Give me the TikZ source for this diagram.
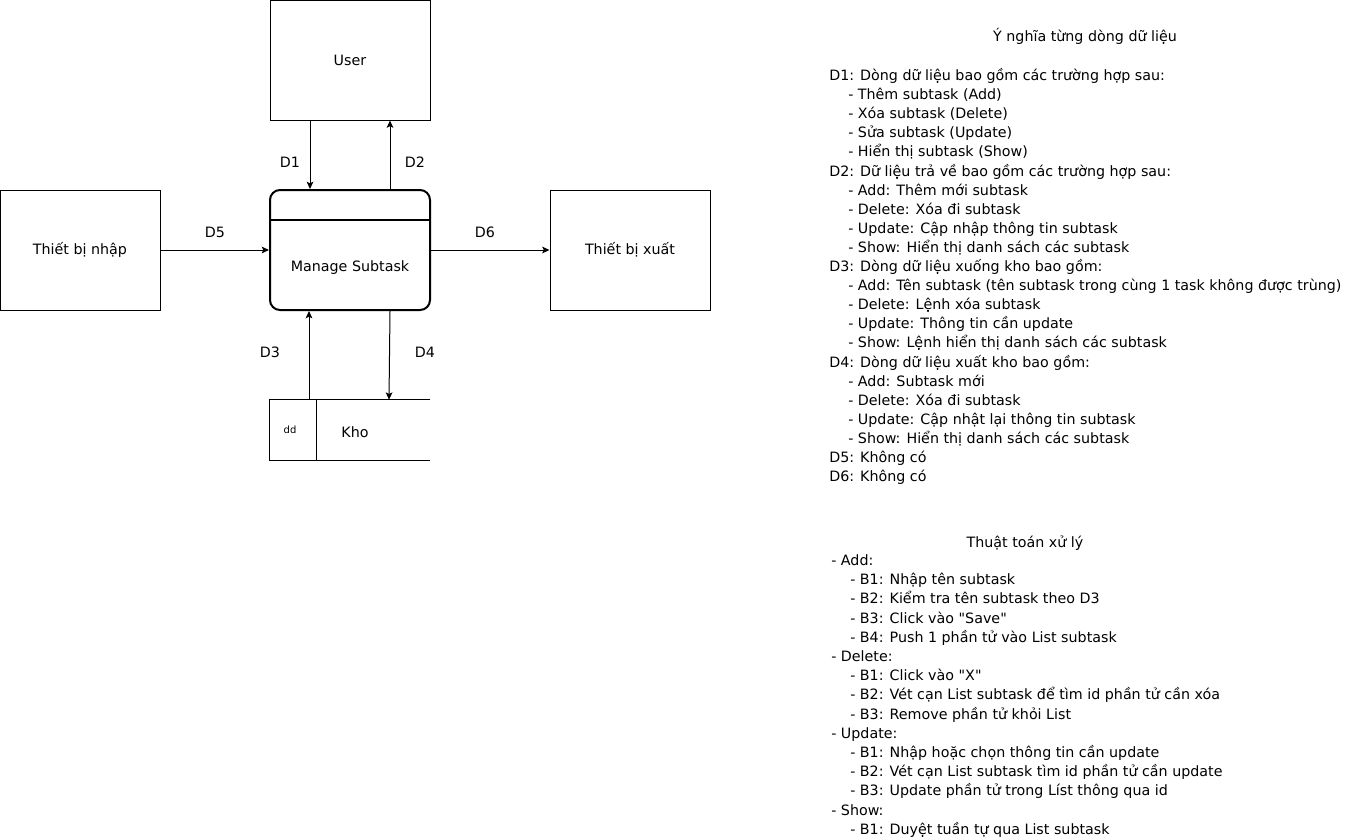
\documentclass[tikz,border=0pt]{standalone}
\usepackage{fontspec}
\setmainfont{DejaVu Sans}[Ligatures=TeXOff]
\usetikzlibrary{arrows.meta}
\newcommand\myind{\hspace*{14.25pt}}
\begin{document}
\begin{tikzpicture}[x=0.75pt,y=-0.75pt,
  font=\fontsize{10.7}{13}\selectfont,
  box/.style={draw, line width=0.75pt, minimum width=120pt, minimum height=90pt, inner sep=0pt},
  procbox/.style={draw, line width=1.5pt, rounded corners=7.5pt, minimum width=120pt, minimum height=90pt, inner sep=0pt},
  lbl/.style={inner sep=0pt},
  txt/.style={inner sep=0pt, anchor=base west},
  arr/.style={line width=0.75pt, -{Stealth[length=5.5pt,width=5pt,inset=1.2pt]}}]
\useasboundingbox (0,0) rectangle (1351,839);

% boxes
\node[box] (user) at (350,60) {User};
\node[box] (nhap) at (80,250) {Thiết bị nhập};
\node[box] (xuat) at (630,250) {Thiết bị xuất};
\node[procbox] (proc) at (350,250) {};
\draw[line width=1.5pt] (proc.west |- 0,220) -- (proc.east |- 0,220);
\node[lbl] (proclbl) at (350,268) {Manage Subtask};

% data store
\node[minimum width=120pt, minimum height=45pt, inner sep=0pt] (kho) at (350,430) {};
\draw[line width=0.75pt] (kho.north east) -- (kho.north west) -- (kho.south west) -- (kho.south east);
\draw[line width=0.75pt] ([xshift=35.25pt]kho.north west) -- ([xshift=35.25pt]kho.south west);
\node[lbl, font=\fontsize{7.5}{9}\selectfont] (dd) at (290,430) {dd};
\node[lbl] (kholbl) at (355,432) {Kho};

% connectors
\draw[arr] ([xshift=-30pt]user.south) -- ([xshift=-30pt]proc.north);
\draw[arr] ([xshift=30pt]proc.north) -- ([xshift=30pt]user.south);
\draw[arr] (nhap.east) -- (proc.west);
\draw[arr] (proc.east) -- (xuat.west);
\draw[arr] ([xshift=-30.75pt]kho.north) -- ([xshift=-30.75pt]proc.south);
\draw[arr] ([xshift=30pt]proc.south) -- ([xshift=29.25pt]kho.north);

% connector labels
\node[lbl] (d1) at (290,162) {D1};
\node[lbl] (d2) at (415,162) {D2};
\node[lbl] (d5) at (215,232) {D5};
\node[lbl] (d6) at (485,232) {D6};
\node[lbl] (d3) at (270,352) {D3};
\node[lbl] (d4) at (425,352) {D4};

% right text: meaning of data flows
\node[inner sep=0pt, anchor=base] (h1) at (1085,41.5) {Ý nghĩa từng dòng dữ liệu};
\foreach \t [count=\i] in {
  {D1: Dòng dữ liệu bao gồm các trường hợp sau:},
  {\myind- Thêm subtask (Add)},
  {\myind- Xóa subtask (Delete)},
  {\myind- Sửa subtask (Update)},
  {\myind- Hiển thị subtask (Show)},
  {D2: Dữ liệu trả về bao gồm các trường hợp sau:},
  {\myind- Add: Thêm mới subtask},
  {\myind- Delete: Xóa đi subtask},
  {\myind- Update: Cập nhập thông tin subtask},
  {\myind- Show: Hiển thị danh sách các subtask},
  {D3: Dòng dữ liệu xuống kho bao gồm:},
  {\myind- Add: Tên subtask (tên subtask trong cùng 1 task không được trùng)},
  {\myind- Delete: Lệnh xóa subtask},
  {\myind- Update: Thông tin cần update},
  {\myind- Show: Lệnh hiển thị danh sách các subtask},
  {D4: Dòng dữ liệu xuất kho bao gồm:},
  {\myind- Add: Subtask mới},
  {\myind- Delete: Xóa đi subtask},
  {\myind- Update: Cập nhật lại thông tin subtask},
  {\myind- Show: Hiển thị danh sách các subtask},
  {D5: Không có},
  {D6: Không có}}
  \node[txt] (m\i) at (829,{80.5+(\i-1)*19.1}) {\t};

% right text: algorithm
\node[inner sep=0pt, anchor=base] (h2) at (1025,547.5) {Thuật toán xử lý};
\foreach \t [count=\i] in {
  {- Add:},
  {\myind- B1: Nhập tên subtask},
  {\myind- B2: Kiểm tra tên subtask theo D3},
  {\myind- B3: Click vào "Save"},
  {\myind- B4: Push 1 phần tử vào List subtask},
  {- Delete:},
  {\myind- B1: Click vào "X"},
  {\myind- B2: Vét cạn List subtask để tìm id phần tử cần xóa},
  {\myind- B3: Remove phần tử khỏi List},
  {- Update:},
  {\myind- B1: Nhập hoặc chọn thông tin cần update},
  {\myind- B2: Vét cạn List subtask tìm id phần tử cần update},
  {\myind- B3: Update phần tử trong Líst thông qua id},
  {- Show:},
  {\myind- B1: Duyệt tuần tự qua List subtask}}
  \node[txt] (a\i) at (831,{565.5+(\i-1)*19.2}) {\t};
\end{tikzpicture}
\end{document}
